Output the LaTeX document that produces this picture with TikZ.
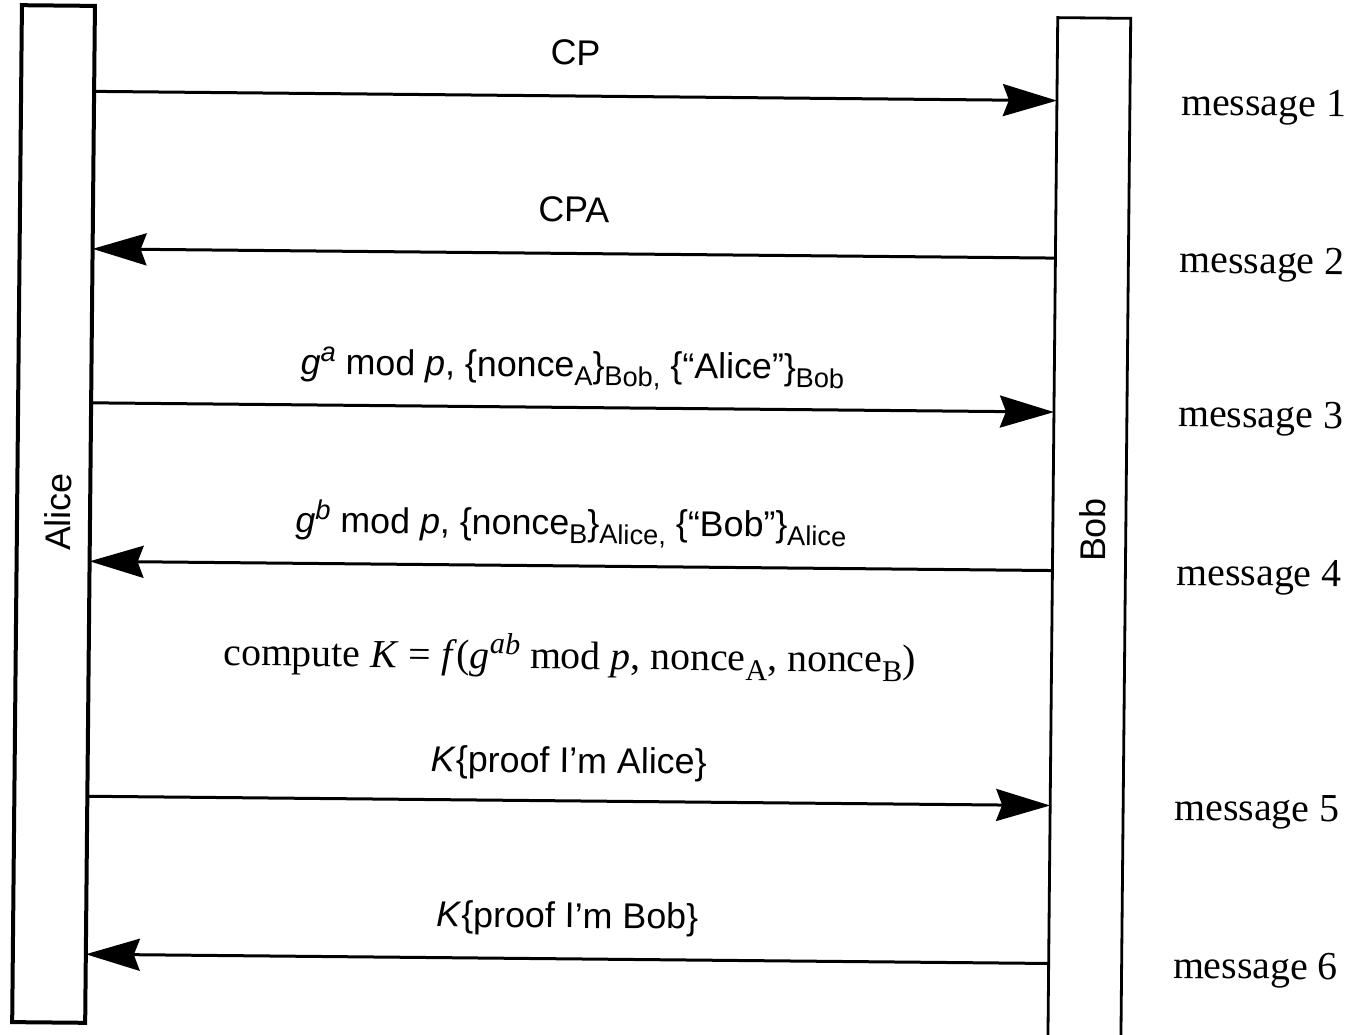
\documentclass[tikz,border=0pt]{standalone}
\usepackage{fontspec}
\setmainfont{Liberation Serif}
\setsansfont{Liberation Sans}
\usetikzlibrary{arrows.meta}
\newcommand{\lowsub}[1]{\raisebox{-0.24em}{\scalebox{0.76}{#1}}}
\newcommand{\highsup}[1]{\raisebox{0.36em}{\scalebox{0.76}{#1}}}
\tikzset{
  lifebox/.style={minimum width=36.5pt, inner sep=0pt, outer sep=0pt},
  msgarrow/.style={line width=1.5pt, -{Stealth[length=27pt,width=16pt,inset=3pt]}},
  lbl/.style={font=\sffamily\fontsize{17.9}{20}\selectfont, anchor=base, inner sep=0pt},
  calc/.style={font=\fontsize{19.9}{22}\selectfont, anchor=base, inner sep=0pt},
  msglbl/.style={font=\fontsize{19.9}{22}\selectfont, anchor=west, inner sep=0pt},
  who/.style={font=\sffamily\fontsize{17.9}{20}\selectfont, rotate=90, inner sep=0pt},
}
\begin{document}
\begin{tikzpicture}[x=0.5pt, y=-0.5pt]
\useasboundingbox (0,0) rectangle (1348,1034);
\begin{scope}[rotate around={-0.55:(575,520)}, transform shape]
  % lifelines
  \node[lifebox, draw, line width=2pt, minimum height=508.5pt] (alice) at (53.5,519) {};
  \node[lifebox, draw=none, minimum height=513.5pt] (bob) at (1089.5,526.5) {};
  \draw[line width=1.4pt] (bob.south west) -- (bob.north west) -- (bob.north east) -- (bob.south east);
  \node[who] (alicename) at (58,517) {Alice};
  \node[who] (bobname) at (1093,525) {Bob};
  % message levels
  \coordinate (m1) at (0,96);
  \coordinate (m2) at (0,253.5);
  \coordinate (m3) at (0,407.5);
  \coordinate (m4) at (0,566);
  \coordinate (m5) at (0,801);
  \coordinate (m6) at (0,959);
  % arrows
  \draw[msgarrow] (alice.east |- m1) -- (bob.west |- m1);
  \draw[msgarrow] (bob.west |- m2) -- (alice.east |- m2);
  \draw[msgarrow] (alice.east |- m3) -- (bob.west |- m3);
  \draw[msgarrow] (bob.west |- m4) -- (alice.east |- m4);
  \draw[msgarrow] (alice.east |- m5) -- (bob.west |- m5);
  \draw[msgarrow] (bob.west |- m6) -- (alice.east |- m6);
  % labels
  \node[lbl] (l1) at (571,65) {CP};
  \node[lbl] (l2) at (571,222) {CPA};
  \node[lbl] (l3) at (571,377) {\textit{g}\highsup{\textit{a}} mod \textit{p}, \{nonce\lowsub{A}\}\lowsub{Bob,} \{“Alice”\}\lowsub{Bob}};
  \node[lbl] (l4) at (571,535) {\textit{g}\highsup{\textit{b}} mod \textit{p}, \{nonce\lowsub{B}\}\lowsub{Alice,} \{“Bob”\}\lowsub{Alice}};
  \node[calc] (lc) at (571,669) {compute \textit{K} = \textit{f}(\textit{g}\highsup{\textit{ab}} mod \textit{p}, nonce\lowsub{A}, nonce\lowsub{B})};
  \node[lbl] (l5) at (571,773) {\textit{K}\{proof I’m Alice\}};
  \node[lbl] (l6) at (571,928) {\textit{K}\{proof I’m Bob\}};
  % message numbers
  \node[msglbl] (t1) at (1177,100.5) {message 1};
  \node[msglbl] (t2) at (1177,258) {message 2};
  \node[msglbl] (t3) at (1177,412) {message 3};
  \node[msglbl] (t4) at (1177,570.5) {message 4};
  \node[msglbl] (t5) at (1177,805.5) {message 5};
  \node[msglbl] (t6) at (1177,963.5) {message 6};
\end{scope}
\end{tikzpicture}
\end{document}
